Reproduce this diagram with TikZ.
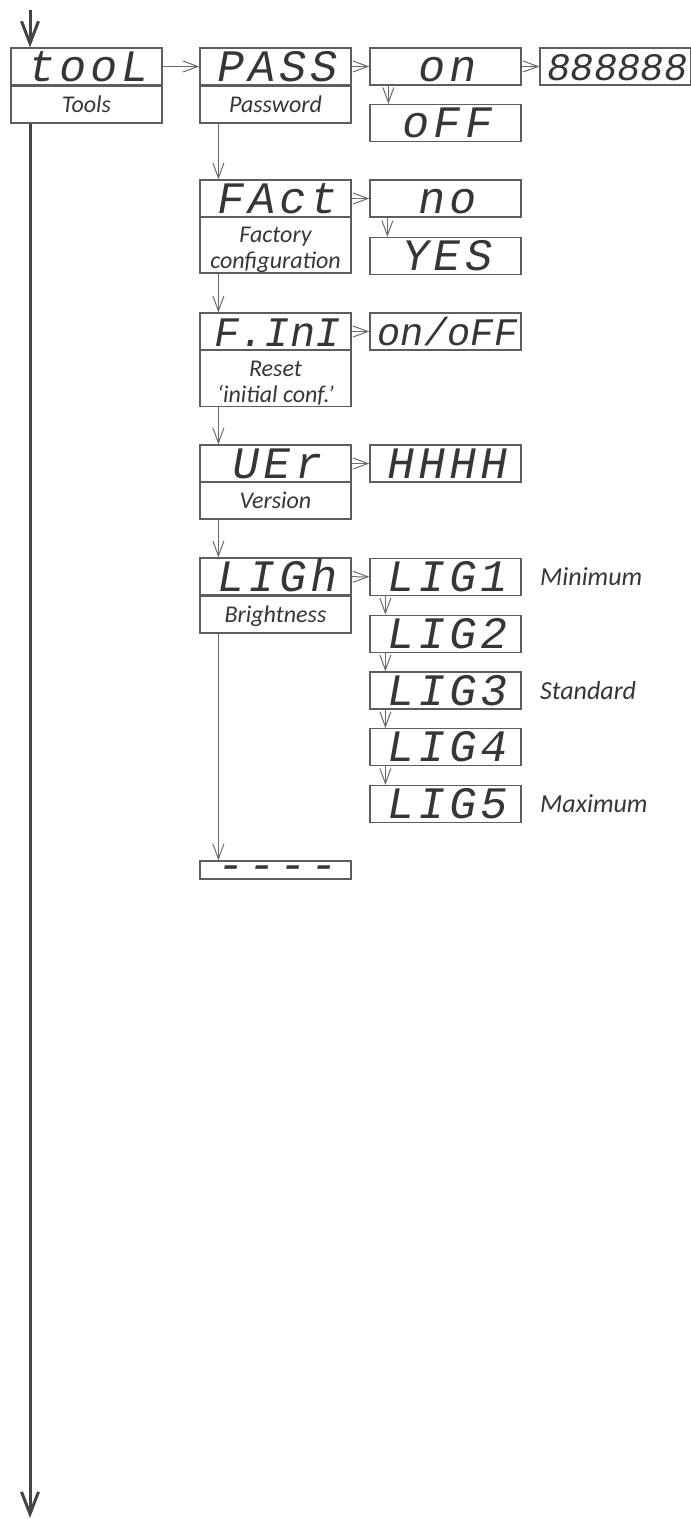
\documentclass[tikz,border=0pt]{standalone}
\usepackage{fontspec}
\setmainfont{Carlito}
\newfontfamily\segfont[FakeSlant=0.18,LetterSpace=9]{Liberation Mono}
\newfontfamily\segfontn[FakeSlant=0.18]{Liberation Mono}
\usetikzlibrary{arrows.meta,positioning}
\definecolor{boxgray}{HTML}{5E5E5E}
\definecolor{txtgray}{HTML}{363636}
\definecolor{linegray}{HTML}{6A6A6A}
\definecolor{maingray}{HTML}{444444}
\begin{document}
\begin{tikzpicture}[x=1pt,y=-1pt,
  disp/.style={draw=boxgray,line width=1.2pt,minimum width=151pt,minimum height=37pt,inner sep=0pt,
    text=txtgray,font=\segfont\fontsize{45}{45}\selectfont,text height=29pt,text depth=0pt},
  dispsmall/.style={disp,font=\segfontn\fontsize{39}{39}\selectfont,text height=28pt},
  lbl/.style={draw=boxgray,line width=1.2pt,minimum width=151pt,minimum height=37pt,inner sep=0pt,
    text=txtgray,font=\itshape\fontsize{24}{26}\selectfont,text height=20pt,text depth=4pt},
  lbltwo/.style={lbl,minimum height=56pt,text height=,text depth=,align=center},
  side/.style={anchor=west,inner sep=0pt,text=txtgray,font=\itshape\fontsize{26}{28}\selectfont},
  sub/.style={draw=linegray,line width=1pt,-{Straight Barb[length=15pt,width=11pt]}},
  main/.style={draw=maingray,line width=3pt,-{Straight Barb[length=22pt,width=17pt]}}]
\useasboundingbox (0,0) rectangle (691,1519);
% first level
\node[disp] (tool) at (86.5,66.5) {tooL};
\node[lbl] (toolL) at (86.5,104.5) {Tools};
\coordinate (start) at (30,10);
\coordinate (stop) at (30,1518);
\draw[main] (start) -- (start |- tool.north);
\draw[main] (start |- toolL.south) -- (stop);
% second level
\node[disp] (pass) at (275.5,66.5) {PASS};
\node[lbl] (passL) at (275.5,104.5) {Password};
\node[disp] (fact) at (275.5,198.5) {FAct};
\node[lbltwo] (factL) at (275.5,245) {\rule{0pt}{25pt}Factory\\configuration};
\node[disp,font=\segfontn\fontsize{42}{42}\selectfont] (fini) at (275.5,331.5) {F.InI};
\node[lbltwo] (finiL) at (275.5,378.5) {\rule{0pt}{25pt}Reset\\‘initial conf.’};
\node[disp] (ver) at (275.5,463.5) {UEr};
\node[lbl] (verL) at (275.5,500.5) {Version};
\node[disp] (ligh) at (275.5,576.5) {LIGh};
\node[lbl] (lighL) at (275.5,614.5) {Brightness};
\node[disp,minimum height=18pt,text height=0pt,text depth=0pt] (none) at (275.5,870) {\raisebox{-0.22em}{----}};
\draw[sub] (tool) -- (pass);
\draw[sub] ([xshift=19pt]passL.south west) -- ([xshift=19pt]fact.north west);
\draw[sub] ([xshift=19pt]factL.south west) -- ([xshift=19pt]fini.north west);
\draw[sub] ([xshift=19pt]finiL.south west) -- ([xshift=19pt]ver.north west);
\draw[sub] ([xshift=19pt]verL.south west) -- ([xshift=19pt]ligh.north west);
\draw[sub] ([xshift=19pt]lighL.south west) -- ([xshift=19pt]none.north west);
% third level
\node[disp] (on) at (445.5,66.5) {on};
\node[disp] (off) at (445.5,123) {oFF};
\node[dispsmall] (code) at (615.5,66.5) {888888};
\node[disp] (no) at (445.5,198.5) {no};
\node[disp] (yes) at (445.5,256) {YES};
\node[dispsmall] (onoff) at (445.5,331.5) {on/oFF};
\node[disp] (hhhh) at (445.5,463.5) {HHHH};
\foreach \i [count=\j from 0] in {1,...,5} {
  \pgfmathsetmacro{\y}{577+\j*56.75}
  \node[disp] (lig\i) at (445.5,\y) {LIG\i};
}
\node[side] (minL) at (540,577) {Minimum};
\node[side] (stdL) at (540,690.5) {Standard};
\node[side] (maxL) at (540,804) {Maximum};
\draw[sub] (pass) -- (on);
\draw[sub] (on) -- (code);
\draw[sub] ([xshift=19pt]on.south west) -- ([xshift=19pt]off.north west);
\draw[sub] (fact) -- (no);
\draw[sub] ([xshift=18pt]no.south west) -- ([xshift=18pt]yes.north west);
\draw[sub] (fini) -- (onoff);
\draw[sub] (ver) -- (hhhh);
\draw[sub] (ligh) -- (lig1);
\foreach \i/\k in {1/2,2/3,3/4,4/5}
  \draw[sub] ([xshift=16pt]lig\i.south west) -- ([xshift=16pt]lig\k.north west);
\end{tikzpicture}
\end{document}
